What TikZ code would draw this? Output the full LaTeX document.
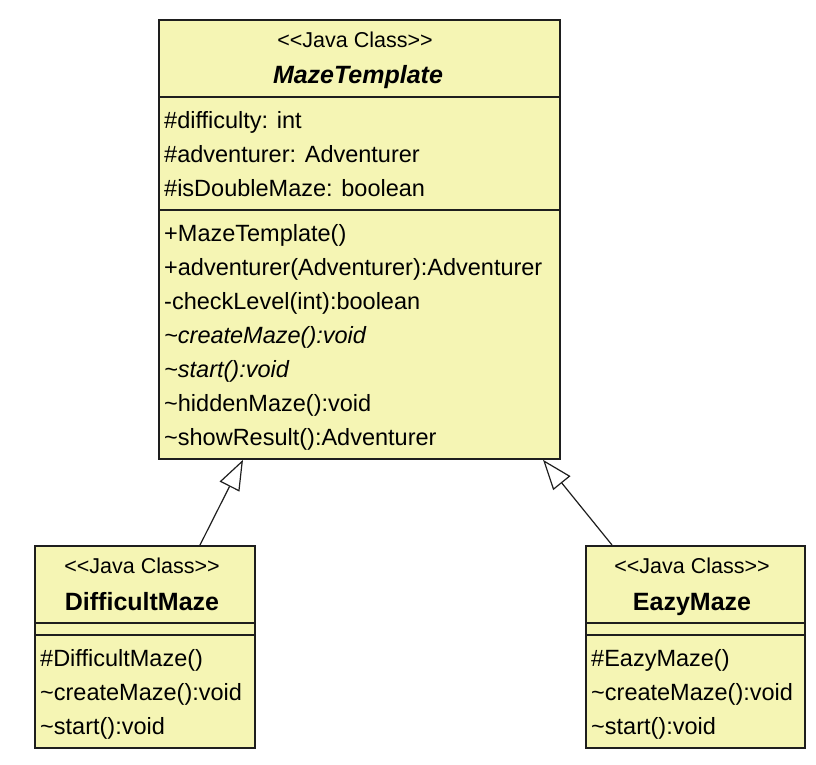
\documentclass[tikz,border=0pt]{standalone}
\usepackage{fontspec}
\setmainfont{Liberation Sans}[Ligatures=NoCommon]
\usetikzlibrary{arrows.meta}
\definecolor{umlfill}{RGB}{245,245,180}
\definecolor{umlline}{RGB}{30,30,30}
\newcommand{\javastereo}{<{}<Java Class>{}>}
\tikzset{
  classbox/.style={draw=umlline, fill=umlfill, line width=1.8pt, inner sep=0pt, anchor=north west},
  divider/.style={draw=umlline, line width=1.5pt},
  member/.style={anchor=base west, inner sep=0pt, font=\fontsize{23.5}{28}\selectfont},
  stereo/.style={anchor=base, inner sep=0pt, font=\fontsize{21.5}{25}\selectfont},
  cname/.style={anchor=base, inner sep=0pt, font=\fontsize{25}{30}\selectfont\bfseries},
  gen/.style={draw=umlline, line width=1.2pt, -{Triangle[open, length=30pt, width=22pt, fill=white, line width=1.2pt]}}
}
\begin{document}
\begin{tikzpicture}[x=1pt,y=-1pt]
\useasboundingbox (0,0) rectangle (816,764);
% MazeTemplate
\node[classbox, minimum width=401pt, minimum height=439pt] (mt) at (158,19) {};
\draw[divider] (158,97) -- (559,97);
\draw[divider] (158,210) -- (559,210);
\node[stereo] (mts) at (355,47) {\javastereo};
\node[cname] (mtn) at (358,83) {\itshape MazeTemplate};
\node[member] (a1) at (164,128) {\#difficulty: int};
\node[member] (a2) at (164,162) {\#adventurer: Adventurer};
\node[member] (a3) at (164,196) {\#isDoubleMaze: boolean};
\node[member] (m1) at (164,241) {+MazeTemplate()};
\node[member] (m2) at (164,275) {+adventurer(Adventurer):Adventurer};
\node[member] (m3) at (164,309) {-checkLevel(int):boolean};
\node[member] (m4) at (164,343) {\itshape \textasciitilde createMaze():void};
\node[member] (m5) at (164,377) {\itshape \textasciitilde start():void};
\node[member] (m6) at (164,411) {\textasciitilde hiddenMaze():void};
\node[member] (m7) at (164,445) {\textasciitilde showResult():Adventurer};
% DifficultMaze
\node[classbox, minimum width=220pt, minimum height=202pt] (dm) at (34,545) {};
\draw[divider] (34,623) -- (254,623);
\draw[divider] (34,635) -- (254,635);
\node[stereo] (dms) at (142,573) {\javastereo};
\node[cname] (dmn) at (142,610) {DifficultMaze};
\node[member] (d1) at (40,666) {\#DifficultMaze()};
\node[member] (d2) at (40,700) {\textasciitilde createMaze():void};
\node[member] (d3) at (40,734) {\textasciitilde start():void};
% EazyMaze
\node[classbox, minimum width=219pt, minimum height=202pt] (em) at (585,545) {};
\draw[divider] (585,623) -- (804,623);
\draw[divider] (585,635) -- (804,635);
\node[stereo] (ems) at (692,573) {\javastereo};
\node[cname] (emn) at (692,610) {EazyMaze};
\node[member] (e1) at (591,666) {\#EazyMaze()};
\node[member] (e2) at (591,700) {\textasciitilde createMaze():void};
\node[member] (e3) at (591,734) {\textasciitilde start():void};
% generalizations
\coordinate (dmtop) at ([xshift=166pt]dm.north west);
\coordinate (mtl) at ([xshift=85pt]mt.south west);
\coordinate (emtop) at ([xshift=27pt]em.north west);
\coordinate (mtr) at ([xshift=385pt]mt.south west);
\draw[gen] (dmtop) -- (mtl);
\draw[gen] (emtop) -- (mtr);
\end{tikzpicture}
\end{document}
